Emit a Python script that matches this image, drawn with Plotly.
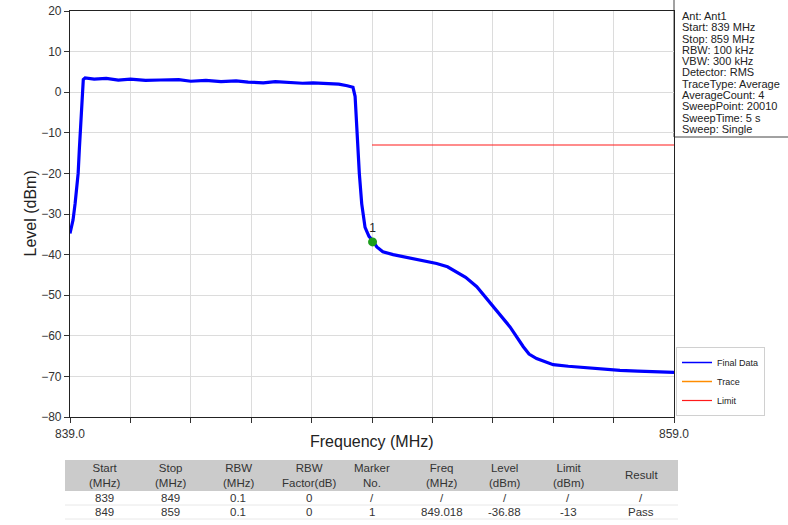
import plotly.graph_objects as go

# ---- data ----
freq_mhz = [839.0, 839.05, 839.1, 839.17, 839.22, 839.27, 839.31, 839.35, 839.4, 839.44,
            839.5, 839.8, 840.2, 840.6, 841.0, 841.5, 842.0, 842.6, 843.0, 843.5,
            844.0, 844.5, 844.9, 845.4, 845.8, 846.3, 846.7, 847.05, 847.5, 847.9,
            848.18, 848.37, 848.44, 848.49, 848.54, 848.58, 848.66, 848.77, 848.9, 849.018,
            849.16, 849.36, 849.7, 850.03, 850.6, 851.14, 851.5, 851.8, 852.1, 852.47,
            852.7, 853.01, 853.3, 853.57, 854.01, 854.2, 854.45, 855.0, 855.5, 856.11,
            856.7, 857.21, 857.8, 858.4, 859.0]
level_dbm = [-34.8, -33.5, -31.5, -27.4, -24.0, -20.0, -14.0, -8.5, -2.0, 3.1,
             3.5, 3.2, 3.4, 3.0, 3.2, 2.9, 3.0, 3.1, 2.7, 2.9,
             2.6, 2.8, 2.5, 2.3, 2.6, 2.4, 2.2, 2.3, 2.1, 2.0,
             1.6, 1.2, -1.0, -8.5, -15.0, -20.0, -27.5, -33.3, -35.5, -36.5,
             -38.1, -39.3, -40.0, -40.5, -41.3, -42.2, -43.0, -44.2, -45.6, -47.9,
             -50.0, -52.9, -55.3, -57.8, -62.7, -64.5, -65.6, -67.1, -67.5, -67.9,
             -68.2, -68.5, -68.7, -68.8, -69.0]

limit_freq = [849.0, 859.0]
limit_level = [-13.0, -13.0]

marker_freq = [849.018]
marker_level = [-36.88]
marker_label = ["1"]

x_tickvals = [839, 841, 843, 845, 847, 849, 851, 853, 855, 857, 859]
x_ticktext = ["839.0", "", "", "", "", "", "", "", "", "", "859.0"]

info_lines = ["Ant: Ant1", "Start: 839 MHz", "Stop: 859 MHz", "RBW: 100 kHz", "VBW: 300 kHz",
              "Detector: RMS", "TraceType: Average", "AverageCount: 4", "SweepPoint: 20010",
              "SweepTime: 5 s", "Sweep: Single"]

table_header = ["Start<br>(MHz)", "Stop<br>(MHz)", "RBW<br>(MHz)", "RBW<br>Factor(dB)",
                "Marker<br>No.", "Freq<br>(MHz)", "Level<br>(dBm)", "Limit<br>(dBm)", "Result"]
table_rows = [
    ["839", "849", "0.1", "0", "/", "/", "/", "/", "/"],
    ["849", "859", "0.1", "0", "1", "849.018", "-36.88", "-13", "Pass"],
]

FONT = "Liberation Sans, Arial, sans-serif"
W, H = 788, 525


def px(x):
    return x / W


def py(y):
    return 1 - y / H


fig = go.Figure()
fig.add_trace(go.Scatter(x=freq_mhz, y=level_dbm, mode="lines", name="Final Data",
                         line=dict(color="#0000ff", width=3.2), showlegend=False))
fig.add_trace(go.Scatter(x=[None], y=[None], mode="lines", name="Final Data",
                         line=dict(color="#0000ff", width=1.5)))
fig.add_trace(go.Scatter(x=[None], y=[None], mode="lines", name="Trace",
                         line=dict(color="#ff8c00", width=1.5)))
fig.add_trace(go.Scatter(x=limit_freq, y=limit_level, mode="lines", name="Limit",
                         line=dict(color="#ff1a1a", width=1.2)))
fig.add_trace(go.Scatter(x=marker_freq, y=marker_level, mode="markers+text", text=marker_label,
                         textposition="top center", textfont=dict(size=12, color="#222", family=FONT),
                         marker=dict(color="#1e9e1e", size=9), showlegend=False))

# ---- table (drawn with shapes + text) ----
tab_x0, tab_x1 = 65, 678
col_centers = [104, 170, 238, 309, 372, 442, 505, 568, 641]
fig.add_shape(type="rect", xref="paper", yref="paper", x0=px(tab_x0), x1=px(tab_x1),
              y0=py(491), y1=py(460), fillcolor="#cbcbcb", line=dict(width=0), layer="below")
for yy in (505, 519):
    fig.add_shape(type="line", xref="paper", yref="paper", x0=px(tab_x0), x1=px(tab_x1),
                  y0=py(yy), y1=py(yy), line=dict(color="#e8e8e8", width=1))
for cx, htxt in zip(col_centers, table_header):
    fig.add_annotation(xref="paper", yref="paper", x=px(cx), y=py(475), xanchor="center",
                       yanchor="middle", align="center", showarrow=False, text=htxt,
                       font=dict(family=FONT, size=11.5, color="#333"))
for ry, row in zip((498, 512), table_rows):
    for cx, txt in zip(col_centers, row):
        fig.add_annotation(xref="paper", yref="paper", x=px(cx), y=py(ry), xanchor="center",
                           yanchor="middle", showarrow=False, text=txt,
                           font=dict(family=FONT, size=11.5, color="#333"))

# ---- info box on the right ----
fig.add_shape(type="rect", xref="paper", yref="paper", x0=px(674), x1=px(800),
              y0=py(137), y1=py(-5), line=dict(color="#444", width=1), fillcolor="white",
              layer="below")
for i, line in enumerate(info_lines):
    fig.add_annotation(xref="paper", yref="paper", x=px(680), y=py(16 + 11.3 * i),
                       xanchor="left", yanchor="middle", showarrow=False, text=line,
                       font=dict(family=FONT, size=11, color="#222"))

# ---- axis titles ----
fig.add_annotation(xref="paper", yref="paper", x=px(372), y=py(452), showarrow=False,
                   text="Frequency (MHz)", font=dict(family=FONT, size=16, color="#222"))
fig.add_annotation(xref="paper", yref="paper", x=px(20), y=py(214), showarrow=False,
                   textangle=-90, text="Level (dBm)", font=dict(family=FONT, size=16, color="#222"))

fig.update_layout(
    width=W, height=H,
    margin=dict(l=0, r=0, t=0, b=0),
    paper_bgcolor="white", plot_bgcolor="white",
    font=dict(family=FONT, color="#222"),
    showlegend=True,
    legend=dict(x=px(676), xanchor="left", y=py(416), yanchor="bottom",
                bgcolor="white", bordercolor="#d0d0d0", borderwidth=1,
                font=dict(size=9, family=FONT, color="#222"),
                itemwidth=30, tracegroupgap=0),
    xaxis=dict(domain=[px(70), px(674)], range=[839, 859], tickvals=x_tickvals,
               ticktext=x_ticktext, automargin=False, ticklabeloverflow="allow",
               ticks="outside", ticklen=5, tickcolor="#333",
               showline=True, linecolor="#222", linewidth=1.2, mirror=True,
               showgrid=True, gridcolor="#dcdcdc", gridwidth=1, zeroline=False,
               tickfont=dict(size=12, color="#333")),
    yaxis=dict(domain=[py(417), py(11)], range=[-80, 20], dtick=10, automargin=False,
               ticklabeloverflow="allow",
               ticks="outside", ticklen=5, tickcolor="#333",
               showline=True, linecolor="#222", linewidth=1.2, mirror=True,
               showgrid=True, gridcolor="#dcdcdc", gridwidth=1, zeroline=False,
               tickfont=dict(size=12, color="#333")),
)

# remove the page's default body margin so the figure fills the window from (0, 0)
fig.write_html("out.html",
               config={"displayModeBar": False},
               post_script="document.body.style.margin='0';document.body.style.overflow='hidden';")
